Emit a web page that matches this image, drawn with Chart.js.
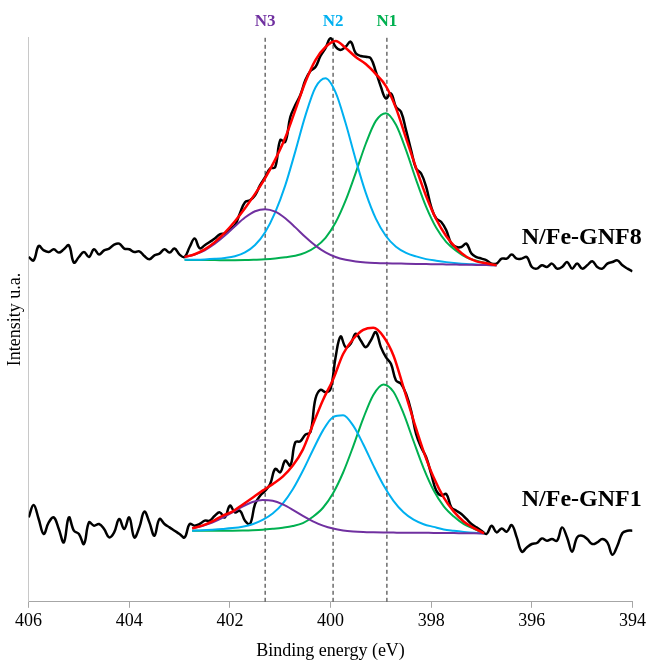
<!DOCTYPE html>
<html>
<head>
<meta charset="utf-8">
<script src="https://cdn.jsdelivr.net/npm/chart.js@4.4.1/dist/chart.umd.min.js"></script>
<style>
  html, body { margin: 0; padding: 0; background: #fff; overflow: hidden; }
</style>
</head>
<body>
<canvas id="xps" width="649" height="662"></canvas>
<script>
// N 1s spectra, binding energy axis runs 406 -> 394 eV
const scanStart = 406, scanStep = 0.1;

// raw spectra (arbitrary units), one value every 0.1 eV from 406.0 down to 394.0
const gnf8Counts = [344.3,341,355.3,351,349.3,352,348.7,352,356,338.7,344.3,349.3,344.3,352,346.7,351,352.7,356.7,357.7,352.7,352,349.3,350,345.3,342,346,347.7,352,348.7,352.7,346.7,344.3,354.3,
  362.7,353,356,359.3,362.7,367,368,372,376,388,399,401,406,416,424,432.7,434,461,459.3,484,496,506,521,530,534,545,553,562.7,554.3,551,554.3,559.3,547.7,545,544.3,542.7,529.3,514.3,502.7,507.7,494.3,489.3,471,451,432.7,427.7,414.3,394.3,382.7,379.3,371,357.7,354.3,354.3,357.7,347.7,344.3,342.7,341,337.7,
  337.7,342.7,342.7,346.7,342.7,342.7,344.3,334.3,332.7,336,334.3,337.7,332.7,334.3,339.3,332.7,337.7,332.7,336,340,334.3,332.7,337.7,339.3,341,336,332.7,330];

const gnf1Counts = [84.3,96.7,82.7,67.7,79.3,84.3,72.7,59.3,84.3,71,67.7,57.7,79.3,76,77.7,72.7,64.3,69.3,82.7,72.7,84.3,64.3,74.3,90,79.3,66,82.7,77.7,74.3,71,67.7,64.3,77.7,76,
  77.7,81,81,86,89.3,84.3,96,89.3,91,81,77.7,97.7,106,111,117.7,132.7,129.3,141,136,159.3,160.3,167,169.3,202.7,211.7,209.3,212.7,244.3,265,
  254.3,257.7,267.7,261,254.3,261,269.3,254.3,244.3,237.7,221,217.7,207.7,191,167.7,154.3,144.3,127.7,111,106,107.7,94.3,91,87.7,82.7,77.7,74.3,71,67.7,76,
  69.3,73.3,70,76.7,64.3,50,54.3,57.7,58.7,63.3,61,62.7,61,74.3,64.3,50,64.3,66,62.7,57.7,59.3,62.7,59.3,47,56,68.7,71,71];

// fitted envelope and components (background included)
const fitEnergy8 = [402.9,402.7,402.5,402.3,402.1,401.9,401.7,401.5,401.3,401.1,400.9,400.7,400.5,400.3,400.1,399.9,399.7,399.5,399.3,399.1,398.9,398.7,398.5,398.3,398.1,397.9,397.7,397.5,397.3,397.1,396.9,396.7];
const envelope8 = [344.3,347.1,351.9,359.2,368.6,380,393,407.3,423.1,441.6,463.4,491,519,541,554,560,553,544,537,527,515,493,463,433,405,382,365,353,344.6,340,338,336];
const n1Fit8 = [341.5,341.3,341.2,341.2,341.1,341.1,341.2,341.6,342.1,342.9,344,345.5,348.6,354.3,363.5,378.7,400.8,428.4,457.4,480.2,487.9,476.3,451,421.4,394.3,373.4,359.2,350.4,344,340.6,338,336];
const n2Fit8 = [341.5,341.6,341.9,342.5,343.4,345.1,348.9,356.3,369.1,388.9,415.8,449.8,485.5,513.6,522.8,508.7,477.8,441.5,408.3,382.6,365.3,354.6,348.5,344.9,342.2,340.6,339.2,338.1,337.3,336.8,336.3,336];
const n3Fit8 = [344.3,346.8,351,357.5,365.7,375,383.7,390,392.1,389.6,383,373.9,364.3,355.7,348.9,344.3,341.5,339.8,338.8,338.3,338,337.8,337.6,337.4,337.2,337.1,336.9,336.7,336.5,336.4,336.2,336];

const fitEnergy1 = [402.75,402.55,402.35,402.15,401.95,401.75,401.55,401.35,401.15,400.95,400.75,400.55,400.35,400.15,399.95,399.75,399.55,399.35,399.15,398.95,398.75,398.55,398.35,398.15,397.95,397.75,397.55,397.35,397.15,396.95];
const envelope1 = [73.4,76.1,80.3,85.9,90,97,104,111,117.5,125,136,152,177.1,201.6,222,247.5,262.4,271.5,273.6,265,246,214,181,150,124,104,90,80,73.5,68.3];
const n1Fit1 = [71,70.9,70.9,70.9,71,71.2,71.5,72,72.9,74,75.6,78.5,84.9,93.9,108.4,129.1,155.2,183.2,206.6,217.1,209.8,188.1,160.3,133.3,111.1,95.3,85.1,77.5,72.9,68.3];
const n2Fit1 = [71,71.4,72,72.7,73.6,75,77.4,81.7,88.1,98,112.3,130.8,151.6,171.2,184.5,186.3,175.9,157.4,136.2,116.6,100.8,89.4,82,77.5,74.8,72.2,70.9,69.8,68.9,68.3];
const n3Fit1 = [73.4,75.6,79,83.7,89.4,95.1,99.6,101.7,100.9,97.3,91.9,85.8,80.4,76.1,73.1,71.3,70.3,69.7,69.4,69.2,69.1,69,69,68.9,68.8,68.7,68.6,68.5,68.4,68.3];

// peak positions marked by dashed lines
const peakNames = ['N3', 'N2', 'N1'];
const peakEnergy = [401.3, 399.95, 398.88];
const sampleNames = ['N/Fe-GNF8', 'N/Fe-GNF1'];

const xTicks = [406, 404, 402, 400, 398, 396, 394];
const yTop = 564;

const colN1 = '#00B050', colN2 = '#00B0F0', colN3 = '#7030A0', colFit = '#FF0000';
const peakColors = [colN3, colN2, colN1];

function pts(xs, ys) {
  return ys.map((v, i) => ({ x: xs[i], y: v }));
}
const scanEnergy = gnf8Counts.map((_, i) => +(scanStart - i * scanStep).toFixed(1));

function curve(xs, ys, color, width, order) {
  return {
    data: pts(xs, ys), borderColor: color, borderWidth: width,
    pointRadius: 0, cubicInterpolationMode: 'monotone', fill: false, order: order
  };
}

const datasets = [];
[gnf8Counts, gnf1Counts].forEach(c => {
  datasets.push({ data: pts(scanEnergy, c), borderColor: '#000', borderWidth: 2.5,
    pointRadius: 0, tension: 0.4, fill: false, order: 10 });
});
datasets.push(curve(fitEnergy8, n3Fit8, colN3, 2, 5));
datasets.push(curve(fitEnergy8, n2Fit8, colN2, 2, 5));
datasets.push(curve(fitEnergy8, n1Fit8, colN1, 2, 5));
datasets.push(curve(fitEnergy8, envelope8, colFit, 2.5, 1));
datasets.push(curve(fitEnergy1, n3Fit1, colN3, 2, 5));
datasets.push(curve(fitEnergy1, n2Fit1, colN2, 2, 5));
datasets.push(curve(fitEnergy1, n1Fit1, colN1, 2, 5));
datasets.push(curve(fitEnergy1, envelope1, colFit, 2.5, 1));
peakEnergy.forEach(p => {
  datasets.push({ data: [{ x: p, y: 0 }, { x: p, y: yTop }], borderColor: '#222',
    borderWidth: 1, borderDash: [4, 3], pointRadius: 0, order: 20 });
});

// text labels: peak names above the plot, sample names beside the spectra
const labelPlugin = {
  id: 'xpsLabels',
  afterDraw(chart, args, opts) {
    const { ctx, chartArea, scales } = chart;
    ctx.save();
    ctx.textBaseline = 'middle';
    ctx.font = 'bold 17px "Liberation Serif"';
    ctx.textAlign = 'center';
    peakEnergy.forEach((p, i) => {
      ctx.fillStyle = peakColors[i];
      ctx.fillText(peakNames[i], scales.x.getPixelForValue(p), chartArea.top - 15);
    });
    ctx.font = 'bold 24px "Liberation Serif"';
    ctx.textAlign = 'left';
    ctx.fillStyle = '#000';
    opts.samples.forEach((s, i) => {
      ctx.fillText(sampleNames[i], scales.x.getPixelForValue(s.x), scales.y.getPixelForValue(s.y));
    });
    ctx.restore();
  }
};

const axisGrey = '#a6a6a6';
new Chart(document.getElementById('xps').getContext('2d'), {
  type: 'line',
  data: { datasets: datasets },
  options: {
    responsive: false,
    animation: false,
    events: [],
    layout: { padding: { top: 37, right: 11, left: 0, bottom: 0 } },
    plugins: {
      legend: { display: false },
      tooltip: { enabled: false },
      xpsLabels: { samples: [{ x: 396.2, y: 363 }, { x: 396.2, y: 102 }] }
    },
    scales: {
      x: {
        type: 'linear', reverse: true, min: 394, max: 406,
        afterBuildTicks: s => { s.ticks = xTicks.map(v => ({ value: v })); },
        ticks: { color: '#000', padding: 3, font: { family: '"Liberation Serif"', size: 18 } },
        grid: { drawOnChartArea: false, drawTicks: true, tickLength: 6, color: axisGrey },
        border: { display: true, color: axisGrey, width: 1 },
        title: { display: true, text: 'Binding energy (eV)', color: '#000',
          padding: { top: 5, bottom: 0 }, font: { family: '"Liberation Serif"', size: 18 } }
      },
      y: {
        min: 0, max: yTop,
        ticks: { display: false },
        grid: { display: false, drawTicks: false },
        border: { display: true, color: '#c8c8c8', width: 1 },
        title: { display: true, text: 'Intensity u.a.', color: '#000',
          padding: { top: 4, bottom: 3 }, font: { family: '"Liberation Serif"', size: 18 } }
      }
    }
  },
  plugins: [labelPlugin]
});
</script>
</body>
</html>
